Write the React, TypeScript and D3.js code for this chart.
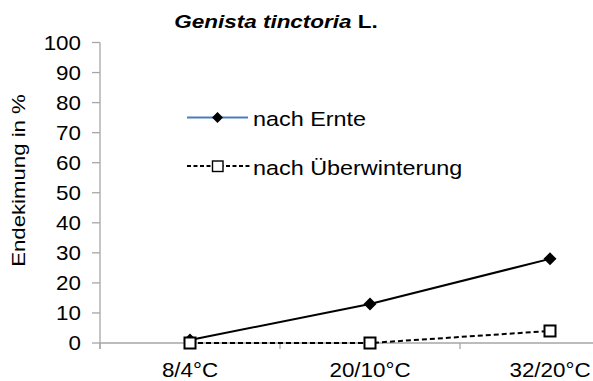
import React from "react";
import * as d3 from "d3";

const categories = ["8/4°C", "20/10°C", "32/20°C"];
const nachErnte = [1, 13, 28];
const nachUeberwinterung = [0, 0, 4];
const yTicks = [0, 10, 20, 30, 40, 50, 60, 70, 80, 90, 100];
const seriesNames = ["nach Ernte", "nach Überwinterung"];
const titleItalic = "Genista tinctoria";
const titleRest = " L.";
const yLabel = "Endekimung in %";

const W = 593;
const H = 381;
const FONT = "'Liberation Sans', Arial, sans-serif";

function diamond(cx: number, cy: number, r: number) {
  return `M${cx},${cy - r}L${cx + r},${cy}L${cx},${cy + r}L${cx - r},${cy}Z`;
}

export default function App() {
  const x = d3.scaleBand<string>().domain(categories).range([100, 640]).padding(0);
  const y = d3.scaleLinear().domain([0, 100]).range([343, 42.5]);
  const cx = (c: string) => (x(c) as number) + x.bandwidth() / 2;

  const line = d3
    .line<number>()
    .x((_, i) => cx(categories[i]))
    .y((d) => y(d));

  const axisColor = "#a6a6a6";
  const bounds = categories.map((c) => x(c) as number).concat([x.range()[1]]);

  return (
    <svg
      width={W}
      height={H}
      style={{ position: "absolute", left: 0, top: 0, background: "#fff" }}
      fontFamily={FONT}
    >
      {/* title */}
      <text x={0} y={28} textAnchor="middle" fontWeight="bold" fontSize={18}
        transform="translate(276,0) scale(1.25,1)">
        <tspan fontStyle="italic">{titleItalic}</tspan>
        <tspan>{titleRest}</tspan>
      </text>

      {/* y axis */}
      <line x1={100} x2={100} y1={y(100)} y2={y(0) + 6} stroke={axisColor} strokeWidth={1.3} />
      {yTicks.map((t) => (
        <g key={t}>
          <line x1={92} x2={100} y1={y(t)} y2={y(t)} stroke={axisColor} strokeWidth={1.3} />
          <text
            transform={`translate(81,${y(t) + 7.2}) scale(1.12,1)`}
            textAnchor="end"
            fontSize={20}
            fill="#000"
          >
            {t}
          </text>
        </g>
      ))}

      {/* x axis */}
      <line x1={100} x2={W} y1={y(0)} y2={y(0)} stroke={axisColor} strokeWidth={1.3} />
      {bounds.map((b, i) => (
        <line key={i} x1={b} x2={b} y1={y(0)} y2={y(0) + 6} stroke={axisColor} strokeWidth={1.3} />
      ))}
      {categories.map((c) => (
        <text
          key={c}
          transform={`translate(${cx(c)},376.5) scale(1.12,1)`}
          textAnchor="middle"
          fontSize={20}
          fill="#000"
        >
          {c}
        </text>
      ))}

      {/* y label */}
      <text
        transform={`translate(25,180.5) rotate(-90) scale(1.2,1)`}
        textAnchor="middle"
        fontSize={18.5}
        fill="#000"
      >
        {yLabel}
      </text>

      {/* series 1 */}
      <path d={line(nachErnte) || ""} fill="none" stroke="#000" strokeWidth={2} />
      {nachErnte.map((v, i) => (
        <path key={i} d={diamond(cx(categories[i]), y(v), 6.5)} fill="#000" />
      ))}

      {/* series 2 */}
      <path d={line(nachUeberwinterung) || ""} fill="none" stroke="#000" strokeWidth={2} strokeDasharray="5,3" />
      {nachUeberwinterung.map((v, i) => (
        <rect
          key={i}
          x={cx(categories[i]) - 5.5}
          y={y(v) - 5.5}
          width={11}
          height={11}
          fill="#fff"
          stroke="#000"
          strokeWidth={2}
        />
      ))}

      {/* legend */}
      <line x1={187} x2={248} y1={117.5} y2={117.5} stroke="#4a7ebb" strokeWidth={2} />
      <path d={diamond(217.5, 117.5, 5.5)} fill="#000" />
      <text transform="translate(253,125.5) scale(1.2,1)" fontSize={19.5} fill="#000">
        {seriesNames[0]}
      </text>

      <line x1={187} x2={250} y1={166} y2={166} stroke="#000" strokeWidth={1.8} strokeDasharray="4,2.5" />
      <rect x={212.5} y={161} width={10.5} height={10.5} fill="#fff" stroke="#000" strokeWidth={1.4} />
      <text transform="translate(253,174.5) scale(1.2,1)" fontSize={19.5} fill="#000">
        {seriesNames[1]}
      </text>
    </svg>
  );
}
